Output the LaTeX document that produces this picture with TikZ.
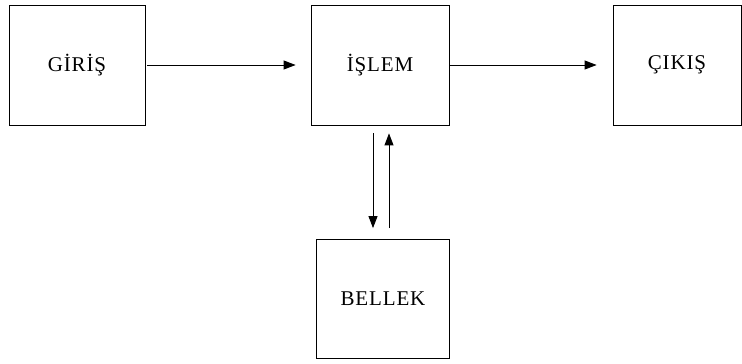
\documentclass[tikz,border=0pt]{standalone}
\usepackage{fontspec}
\setmainfont{Liberation Serif}[LetterSpace=4]
\usetikzlibrary{arrows.meta, positioning, calc}
\tikzset{
  blok/.style={draw, line width=0.8pt, minimum height=120pt, inner sep=0pt, font=\fontsize{21}{24}\selectfont},
  ok/.style={-{Triangle[length=12pt, width=9pt]}, line width=0.9pt}
}
\begin{document}
\begin{tikzpicture}[x=1pt, y=-1pt]
    \useasboundingbox (0, 0) rectangle (742, 364);
    \node[blok, minimum width=136pt] (giris) at (77, 65) {GİRİŞ};
    \node[blok, minimum width=138pt] (islem) at (380, 65) {İŞLEM};
    \node[blok, minimum width=128pt] (cikis) at (677, 65) {ÇIKIŞ};
    \node[blok, minimum width=133pt, minimum height=119pt] (bellek) at (383, 299) {BELLEK};
    \draw[ok, shorten <=2pt, shorten >=15pt] (giris.east) -- (islem.west);
    \draw[ok, shorten <=1pt, shorten >=16pt] (islem.east) -- (cikis.west);
    \draw[ok, shorten <=8pt, shorten >=11pt] ([xshift=-7pt]islem.south) -- ([xshift=-7pt]islem.south |- bellek.north);
    \draw[ok, shorten <=11pt, shorten >=8pt] ([xshift=9pt]islem.south |- bellek.north) -- ([xshift=9pt]islem.south);
\end{tikzpicture}
\end{document}
